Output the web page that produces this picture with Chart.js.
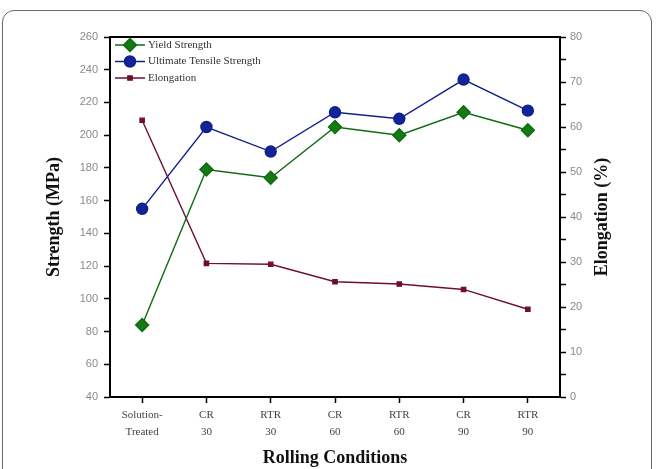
<!DOCTYPE html>
<html>
<head>
<meta charset="utf-8">
<script src="https://cdn.jsdelivr.net/npm/chart.js@4/dist/chart.umd.min.js"></script>
<style>
  html, body { margin: 0; padding: 0; background: #fff; overflow: hidden; }
  #wrap { position: relative; width: 656px; height: 469px; }
  #frame {
    position: absolute; left: 2px; top: 10px; width: 650px; height: 490px;
    border: 1.5px solid #6a6a6a; border-radius: 12px; box-sizing: border-box;
  }
  canvas { position: absolute; left: 0; top: 0; }
</style>
</head>
<body>
<div id="wrap">
  <div id="frame"></div>
  <canvas id="chart" width="656" height="469"></canvas>
</div>
<script>
// data
const categories = [['Solution-', 'Treated'], ['CR', '30'], ['RTR', '30'], ['CR', '60'], ['RTR', '60'], ['CR', '90'], ['RTR', '90']];
const yieldStrength = [84, 179, 174, 205, 200, 214, 203];
const tensileStrength = [155, 205, 190, 214, 210, 234, 215];
const elongation = [61.5, 29.7, 29.5, 25.6, 25.1, 23.9, 19.5];
const seriesNames = ['Yield Strength', 'Ultimate Tensile Strength', 'Elongation'];
const strengthRange = [40, 260];
const elongationRange = [0, 80];

const SERIF = '"Liberation Serif", "DejaVu Serif", serif';
const SANS = '"Liberation Sans", Arial, sans-serif';

// legend drawn inside the plot, top-left
const innerLegend = {
    id: 'inner-legend',
    afterDraw(chart) {
        const { ctx } = chart;
        ctx.save();
        chart.data.datasets.forEach((ds, i) => {
            const y = 45 + i * 16.5;
            ctx.beginPath();
            ctx.moveTo(115, y);
            ctx.lineTo(145, y);
            ctx.strokeStyle = ds.borderColor;
            ctx.lineWidth = 1.5;
            ctx.stroke();
            ctx.fillStyle = ds.pointBackgroundColor;
            ctx.strokeStyle = ds.borderColor;
            Chart.helpers.drawPoint(ctx, {
                pointStyle: ds.pointStyle,
                radius: ds.pointRadius,
                rotation: 0,
                borderWidth: 1,
            }, 130, y);
            ctx.fillStyle = '#333';
            ctx.font = '11px ' + SERIF;
            ctx.textBaseline = 'middle';
            ctx.fillText(ds.label, 148, y);
        });
        ctx.restore();
    },
};

// top frame line and the right-hand title (reads bottom to top)
const frameAndTitle = {
    id: 'frame-title',
    afterDraw(chart) {
        const { ctx, chartArea: { left, right, top, bottom } } = chart;
        ctx.save();
        ctx.beginPath();
        ctx.moveTo(left - 1, top);
        ctx.lineTo(right + 1, top);
        ctx.strokeStyle = '#000';
        ctx.lineWidth = 2;
        ctx.stroke();

        ctx.translate(602, (top + bottom) / 2);
        ctx.rotate(-Math.PI / 2);
        ctx.font = 'bold 18px ' + SERIF;
        ctx.fillStyle = '#111';
        ctx.textAlign = 'center';
        ctx.textBaseline = 'middle';
        ctx.fillText('Elongation (%)', 0, 0);
        ctx.restore();
    },
};

const tickGrid = { drawOnChartArea: false, drawTicks: true, tickLength: 6, tickColor: '#000', tickWidth: 1.5 };

new Chart(document.getElementById('chart'), {
    type: 'line',
    plugins: [innerLegend, frameAndTitle],
    data: {
        labels: categories,
        datasets: [
            {
                label: seriesNames[0],
                data: yieldStrength,
                yAxisID: 'y',
                borderColor: '#0e6b10',
                pointBackgroundColor: '#137a15',
                pointBorderColor: '#0e6b10',
                pointStyle: 'rectRot',
                pointRadius: 6.5,
                borderWidth: 1.4,
                tension: 0,
            },
            {
                label: seriesNames[1],
                data: tensileStrength,
                yAxisID: 'y',
                borderColor: '#0f1f8a',
                pointBackgroundColor: '#13249a',
                pointBorderColor: '#0f1f8a',
                pointStyle: 'circle',
                pointRadius: 5.5,
                borderWidth: 1.4,
                tension: 0,
            },
            {
                label: seriesNames[2],
                data: elongation,
                yAxisID: 'y1',
                borderColor: '#6e0f30',
                pointBackgroundColor: '#6e0f30',
                pointBorderColor: '#6e0f30',
                pointStyle: 'rect',
                pointRadius: 3,
                borderWidth: 1.4,
                tension: 0,
            },
        ],
    },
    options: {
        responsive: false,
        animation: false,
        layout: { padding: { top: 37, left: 0, right: 0, bottom: 0 } },
        plugins: {
            legend: { display: false },
            tooltip: { enabled: false },
        },
        scales: {
            x: {
                offset: true,
                grid: { ...tickGrid, offset: false },
                border: { color: '#000', width: 2 },
                ticks: {
                    color: '#444',
                    font: { family: SERIF, size: 11, lineHeight: 1.6 },
                    padding: 3,
                    maxRotation: 0,
                    autoSkip: false,
                },
                title: {
                    display: true,
                    text: 'Rolling Conditions',
                    color: '#111',
                    font: { family: SERIF, size: 18, weight: 'bold' },
                    padding: { top: 0, bottom: 0 },
                },
                afterFit(scale) { scale.height = 72; },
            },
            y: {
                position: 'left',
                min: strengthRange[0],
                max: strengthRange[1],
                grid: tickGrid,
                border: { color: '#000', width: 2 },
                ticks: {
                    stepSize: 20,
                    color: '#8a8a8a',
                    font: { family: SANS, size: 11 },
                    padding: 6,
                },
                title: {
                    display: true,
                    text: 'Strength (MPa)',
                    color: '#111',
                    font: { family: SERIF, size: 18, weight: 'bold' },
                    padding: { top: 44, bottom: 0 },
                },
                afterFit(scale) { scale.width = 110; },
            },
            y1: {
                position: 'right',
                min: elongationRange[0],
                max: elongationRange[1],
                grid: tickGrid,
                border: { color: '#000', width: 2 },
                ticks: {
                    stepSize: 5,
                    color: '#8a8a8a',
                    font: { family: SANS, size: 11 },
                    padding: 4,
                    callback: v => (v % 10 === 0 ? v : ''),
                },
                afterFit(scale) { scale.width = 96; },
            },
        },
    },
});
</script>
</body>
</html>
